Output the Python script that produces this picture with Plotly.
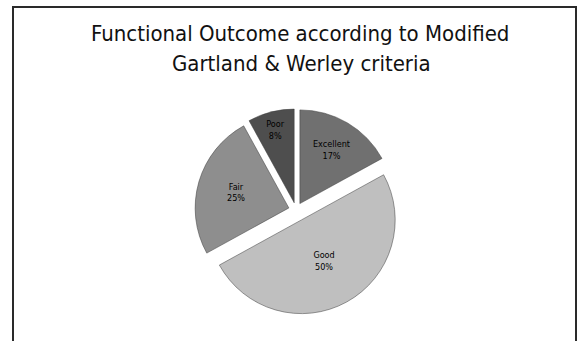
import plotly.graph_objects as go

categories = ["Excellent", "Good", "Fair", "Poor"]
values = [17, 50, 25, 8]
title_lines = ["Functional Outcome according to Modified", "Gartland &amp; Werley criteria"]
colors = ["#707070", "#bfbfbf", "#8e8e8e", "#4e4e4e"]
pulls = [0.08, 0.12, 0.08, 0.08]

fig = go.Figure(go.Pie(
    labels=categories,
    values=values,
    sort=False,
    direction="clockwise",
    rotation=0,
    pull=pulls,
    marker=dict(colors=colors, line=dict(color="#3a3a3a", width=0.5)),
    texttemplate="%{label}<br>%{percent:.0%}",
    textposition="inside",
    insidetextorientation="horizontal",
    textfont=dict(size=9, color="black", family="DejaVu Sans Condensed, Liberation Sans"),
    domain=dict(x=[0.325, 0.682], y=[0.076, 0.692]),
    showlegend=False,
    hoverinfo="label+percent",
))

fig.update_layout(
    width=588, height=341,
    margin=dict(l=0, r=0, t=0, b=0),
    paper_bgcolor="white",
    plot_bgcolor="white",
    annotations=[
        dict(text=title_lines[0], xref="paper", yref="paper", x=300/588, y=1 - 33/341,
             xanchor="center", yanchor="middle", showarrow=False,
             font=dict(size=22, color="#111111", family="DejaVu Sans Condensed, Liberation Sans Narrow, Arial")),
        dict(text=title_lines[1], xref="paper", yref="paper", x=301/588, y=1 - 63/341,
             xanchor="center", yanchor="middle", showarrow=False,
             font=dict(size=22, color="#111111", family="DejaVu Sans Condensed, Liberation Sans Narrow, Arial")),
    ],
    shapes=[dict(type="rect", xref="paper", yref="paper",
                 x0=13/588, x1=576/588, y0=-0.05, y1=1 - 7/341,
                 line=dict(color="#2a2a2a", width=2))],
)

fig.write_html("out.html", config={"displayModeBar": False},
               post_script="document.body.style.margin='0';document.body.style.overflow='hidden';")
